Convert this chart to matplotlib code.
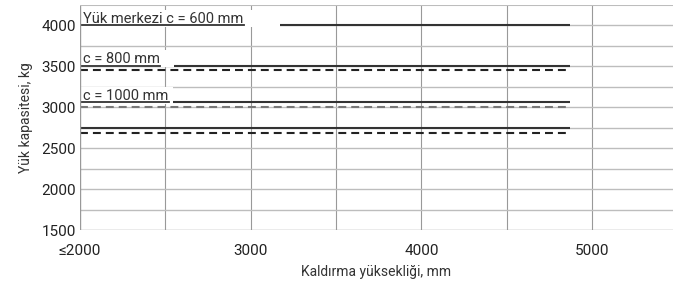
import matplotlib
matplotlib.use("Agg")
import matplotlib.pyplot as plt
from matplotlib.patches import Rectangle

plt.rcParams['font.family'] = ['Roboto', 'DejaVu Sans']

# lifting height range covered by the capacity lines
heights = [2000, 4870]

# capacity values, kg
solid_caps = [4000, 3510, 3060, 2750]
dashed_black_caps = [3460, 2690]
dashed_gray_caps = [3000]

# labels sitting on top of the solid lines
label_texts = ["Yük merkezi c = 600 mm", "c = 800 mm", "c = 1000 mm"]
label_caps = [4000, 3510, 3060]
label_box_ends = [3170, 2550, 2545]

x_ticks = [2000, 3000, 4000, 5000]
x_tick_labels = ["≤2000", "3000", "4000", "5000"]
y_ticks = [1500, 2000, 2500, 3000, 3500, 4000]

fig = plt.figure(figsize=(6.73, 2.91), dpi=100)
ax = fig.add_axes([80 / 673, 1 - 230 / 291, 593 / 673, 225 / 291])

ax.set_xlim(2000, 5474)
ax.set_ylim(1500, 4250)

# grid
for gx in range(2500, 5500, 500):
    ax.axvline(gx, color="#999999", lw=0.8, zorder=1)
for gy in range(1750, 4250, 250):
    ax.axhline(gy, color="#bdbdbd", lw=1.0, zorder=1)

for v in solid_caps:
    ax.plot(heights, [v, v], color="#333333", lw=1.5, solid_capstyle="butt", zorder=2)
for v in dashed_black_caps:
    ax.plot(heights, [v, v], color="#222222", lw=1.5, dashes=(3.8, 2.4), zorder=2)
for v in dashed_gray_caps:
    ax.plot(heights, [v, v], color="#777777", lw=1.5, dashes=(3.8, 2.4), zorder=2)

fig.canvas.draw()
for txt, cap, xend in zip(label_texts, label_caps, label_box_ends):
    ax.add_patch(Rectangle((2000, cap - 15), xend - 2000, 200, facecolor="white",
                           edgecolor="none", zorder=3))
    t = ax.text(2020, cap + 25, txt, fontsize=10.5, color="#333333",
                ha="left", va="baseline", zorder=4)
    bb = t.get_window_extent(fig.canvas.get_renderer())
    x_right = ax.transData.inverted().transform((bb.x1, bb.y0))[0]
    ax.plot([2000, x_right], [cap, cap], color="#333333", lw=1.3, zorder=4)

for s in ax.spines.values():
    s.set_visible(False)
ax.axvline(2000, color="#999999", lw=1.0, zorder=5)
ax.axhline(4250, color="#bdbdbd", lw=1.5, zorder=5)
ax.axhline(1500, color="#999999", lw=1.0, zorder=5)

ax.set_xticks(x_ticks)
ax.set_xticklabels(x_tick_labels)
ax.set_yticks(y_ticks)
ax.tick_params(axis="both", length=0, labelsize=11, colors="#222222")
ax.tick_params(axis="x", pad=10)
ax.tick_params(axis="y", pad=3)

ax.set_xlabel("Kaldırma yüksekliği, mm", fontsize=10, color="#333333", labelpad=5)
ax.set_ylabel("Yük kapasitesi, kg", fontsize=10, color="#333333", labelpad=6)

fig.savefig("out.png", dpi=100)
